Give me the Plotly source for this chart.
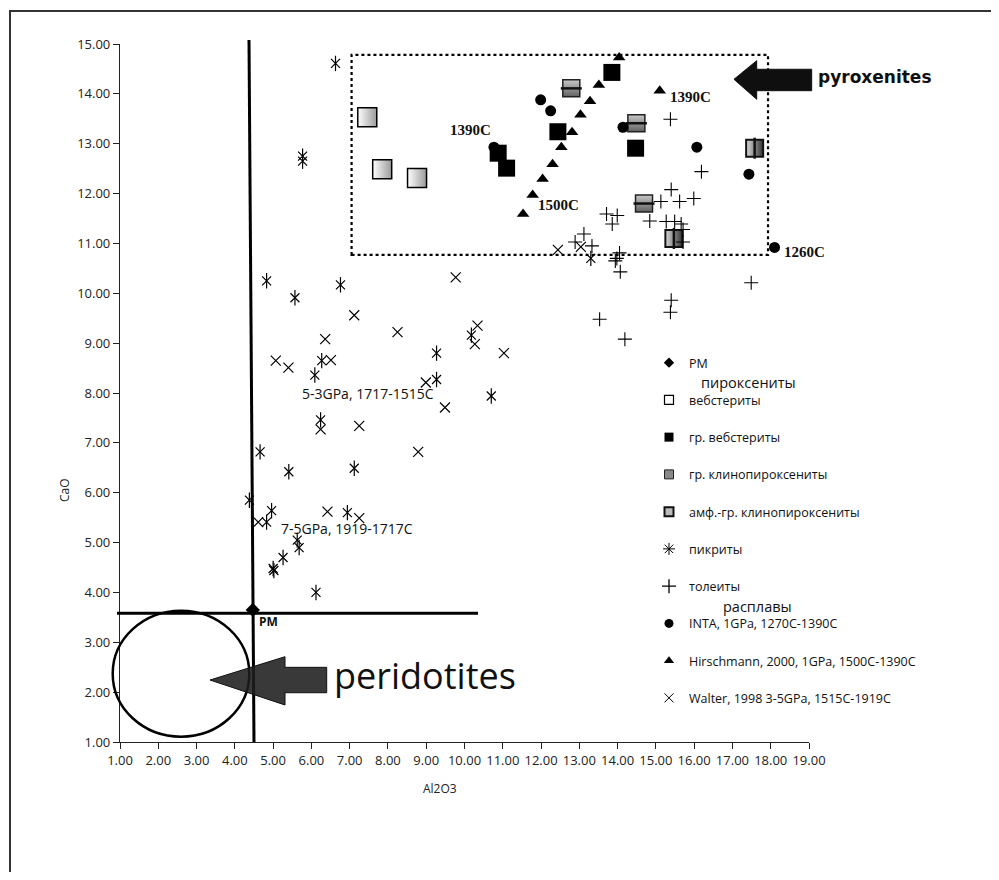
import plotly.graph_objects as go

# ---------------- data ----------------
pm_x = [4.47]
pm_y = [3.65]

web_x = [7.46, 7.85, 8.76]
web_y = [13.53, 12.49, 12.31]

grweb_x = [10.88, 11.10, 12.44, 13.85, 14.47]
grweb_y = [12.81, 12.51, 13.24, 14.43, 12.91]

grclin_x = [12.79, 14.49, 14.69]
grclin_y = [14.11, 13.41, 11.80]

amph_x = [17.58, 15.47]
amph_y = [12.91, 11.10]

pic_x = [6.63, 5.77, 5.77, 4.83, 5.57, 6.76, 10.18, 6.27, 6.09, 9.27, 9.27, 10.70,
         6.24, 4.66, 5.41, 7.12, 4.38, 4.96, 6.94, 4.83, 5.63, 5.68, 5.26, 5.00,
         5.02, 6.12, 13.30]
pic_y = [14.61, 12.75, 12.65, 10.25, 9.91, 10.17, 9.16, 8.65, 8.36, 8.80, 8.27, 7.94,
         7.46, 6.82, 6.42, 6.49, 5.85, 5.64, 5.60, 5.41, 5.05, 4.90, 4.70, 4.48,
         4.44, 4.00, 10.70]

thol_x = [15.38, 16.19, 15.40, 15.13, 15.62, 15.99, 13.71, 13.99, 13.86, 14.84, 15.27,
          15.49, 15.66, 15.71, 15.71, 13.12, 12.89, 13.33, 14.05, 13.94, 13.98, 14.07,
          17.49, 15.40, 15.38, 13.53, 14.19]
thol_y = [13.49, 12.44, 12.08, 11.84, 11.84, 11.90, 11.59, 11.56, 11.39, 11.45, 11.44,
          11.44, 11.39, 11.28, 11.03, 11.19, 11.03, 10.95, 10.81, 10.65, 10.70, 10.43,
          10.21, 9.86, 9.62, 9.48, 9.08]

inta_x = [10.77, 11.99, 12.25, 14.14, 16.07, 17.43, 18.10]
inta_y = [12.93, 13.88, 13.66, 13.33, 12.93, 12.39, 10.92]

hir_x = [11.53, 11.78, 12.04, 12.30, 12.53, 12.81, 13.03, 13.28, 13.51, 14.04, 15.10]
hir_y = [11.59, 11.97, 12.29, 12.59, 12.93, 13.23, 13.58, 13.85, 14.18, 14.73, 14.06]

wal_x = [9.77, 7.12, 10.34, 6.36, 8.25, 10.27, 11.03, 5.07, 5.40, 6.51, 8.99, 9.49,
         6.24, 7.25, 8.79, 6.42, 7.25, 4.61, 12.44, 13.04]
wal_y = [10.32, 9.56, 9.35, 9.08, 9.22, 8.98, 8.80, 8.65, 8.51, 8.66, 8.21, 7.71,
         7.27, 7.34, 6.82, 5.62, 5.49, 5.41, 10.87, 10.93]

x_ticks = [1, 2, 3, 4, 5, 6, 7, 8, 9, 10, 11, 12, 13, 14, 15, 16, 17, 18, 19]
y_ticks = [1, 2, 3, 4, 5, 6, 7, 8, 9, 10, 11, 12, 13, 14, 15]

legend_names = ["PM", "вебстериты", "гр. вебстериты", "гр. клинопироксениты",
                "амф.-гр. клинопироксениты", "пикриты", "толеиты",
                "INTA, 1GPa, 1270C-1390C", "Hirschmann, 2000, 1GPa, 1500C-1390C",
                "Walter, 1998 3-5GPa, 1515C-1919C"]

# ---------------- geometry (screen pixels -> paper) ----------------
OFF = 8                       # page body margin
W, H = 999 - 2 * OFF, 880 - 2 * OFF
L, R, T, B = 120, 809, 44, 742  # plot area in screen pixels


def px(x):
    return (x - L) / (R - L)


def py(y):
    return (B - y) / (B - T)


fig = go.Figure()
BLK = "black"

# data traces
fig.add_trace(go.Scatter(x=web_x, y=web_y, mode="markers", showlegend=False,
                         marker=dict(symbol="square", size=19, color="white",
                                     gradient=dict(type="horizontal", color="#9a9a9a"),
                                     line=dict(color=BLK, width=1.5))))
fig.add_trace(go.Scatter(x=grclin_x, y=grclin_y, mode="markers", showlegend=False,
                         marker=dict(symbol="square", size=17, color="#c8c8c8",
                                     gradient=dict(type="vertical", color="#606060"),
                                     line=dict(color="#222", width=1.5))))
fig.add_trace(go.Scatter(x=grclin_x, y=grclin_y, mode="markers", showlegend=False,
                         marker=dict(symbol="line-ew-open", size=15, color="#111",
                                     line=dict(color="#111", width=2.5))))
fig.add_trace(go.Scatter(x=amph_x, y=amph_y, mode="markers", showlegend=False,
                         marker=dict(symbol="square", size=17, color="#dcdcdc",
                                     gradient=dict(type="horizontal", color="#333"),
                                     line=dict(color="#111", width=2))))
fig.add_trace(go.Scatter(x=amph_x, y=amph_y, mode="markers", showlegend=False,
                         marker=dict(symbol="line-ns-open", size=15, color="#111",
                                     line=dict(color="#111", width=2.5))))
fig.add_trace(go.Scatter(x=inta_x, y=inta_y, mode="markers", showlegend=False,
                         marker=dict(symbol="circle", size=11, color=BLK)))
fig.add_trace(go.Scatter(x=grweb_x, y=grweb_y, mode="markers", showlegend=False,
                         marker=dict(symbol="square", size=17, color=BLK)))
fig.add_trace(go.Scatter(x=hir_x, y=hir_y, mode="markers", showlegend=False,
                         marker=dict(symbol="triangle-up", size=11, color=BLK)))
fig.add_trace(go.Scatter(x=thol_x, y=thol_y, mode="markers", showlegend=False,
                         marker=dict(symbol="cross-thin-open", size=10, color=BLK,
                                     line=dict(color=BLK, width=1.1))))
fig.add_trace(go.Scatter(x=wal_x, y=wal_y, mode="markers", showlegend=False,
                         marker=dict(symbol="x-thin-open", size=10, color=BLK,
                                     line=dict(color=BLK, width=1.2))))
fig.add_trace(go.Scatter(x=pic_x, y=pic_y, mode="markers", showlegend=False,
                         marker=dict(symbol="x-thin-open", size=9, color=BLK,
                                     line=dict(color=BLK, width=1.2))))
fig.add_trace(go.Scatter(x=pic_x, y=pic_y, mode="markers", showlegend=False,
                         marker=dict(symbol="line-ns-open", size=11, color=BLK,
                                     line=dict(color=BLK, width=1.2))))
fig.add_trace(go.Scatter(x=pm_x, y=pm_y, mode="markers", showlegend=False,
                         marker=dict(symbol="diamond", size=11, color=BLK)))

# legend-only traces
leg_markers = [
    dict(symbol="diamond", size=8, color=BLK),
    dict(symbol="square", size=9, color="white", line=dict(color=BLK, width=1.2)),
    dict(symbol="square", size=9, color=BLK),
    dict(symbol="square", size=9, color="#888", line=dict(color="#222", width=1)),
    dict(symbol="square", size=9, color="#bbb", line=dict(color="#111", width=2)),
    dict(symbol="asterisk-open", size=10, color=BLK, line=dict(color=BLK, width=1)),
    dict(symbol="cross-thin-open", size=10, color=BLK, line=dict(color=BLK, width=1.3)),
    dict(symbol="circle", size=9, color=BLK),
    dict(symbol="triangle-up", size=9, color=BLK),
    dict(symbol="x-thin-open", size=9, color=BLK, line=dict(color=BLK, width=1)),
]
for i, (nm, mk) in enumerate(zip(legend_names, leg_markers)):
    fig.add_trace(go.Scatter(x=[None], y=[None], mode="markers", name=nm,
                             legendgroup="g%d" % i, marker=mk))

shapes = []
# dotted rectangle (data coords)
shapes.append(dict(type="rect", xref="x", yref="y", x0=7.05, x1=17.93, y0=10.77, y1=14.78,
                   line=dict(color=BLK, width=2.2, dash="dot")))
# thick vertical & horizontal lines through PM
shapes.append(dict(type="line", xref="paper", yref="paper", x0=px(249), y0=py(40),
                   x1=px(254), y1=py(742), line=dict(color=BLK, width=3)))
shapes.append(dict(type="line", xref="paper", yref="paper", x0=px(117), y0=py(613.3),
                   x1=px(478), y1=py(613.3), line=dict(color=BLK, width=3)))
# peridotite ellipse
shapes.append(dict(type="circle", xref="paper", yref="paper", x0=px(112.7), x1=px(249.3),
                   y0=py(736.7), y1=py(610.7), line=dict(color=BLK, width=2.5)))


def arrow(pts, fill):
    d = "M " + " L ".join("%.4f,%.4f" % (px(a), py(b)) for a, b in pts) + " Z"
    return dict(type="path", xref="paper", yref="paper", path=d, fillcolor=fill,
                line=dict(color="#111", width=1))


shapes.append(arrow([(210, 680), (285, 656.7), (285, 667.3), (326.7, 667.3),
                     (326.7, 692.7), (285, 692.7), (285, 705)], "rgba(30,30,30,0.88)"))
shapes.append(arrow([(734, 79.3), (756.7, 60.7), (756.7, 69.3), (811.7, 69.3),
                     (811.7, 90.7), (756.7, 90.7), (756.7, 99.3)], "rgba(15,15,15,1)"))
# outer frame
shapes.append(dict(type="rect", xref="paper", yref="paper", x0=px(10), x1=px(1012),
                   y0=py(892), y1=py(11), line=dict(color="#333", width=2)))

ann = []
lab_font = dict(family="Liberation Serif", size=15, color="#111")


def add_ann(text, x, y, font, xref="x", yref="y", **kw):
    ann.append(dict(x=x, y=y, xref=xref, yref=yref, text=text, showarrow=False,
                    xanchor="center", yanchor="middle", font=font, **kw))


for txt, x, y in [("1390C", 10.16, 13.27), ("1500C", 12.46, 11.77),
                  ("1390C", 15.91, 13.94), ("1260C", 18.89, 10.83)]:
    add_ann("<b>%s</b>" % txt, x, y, lab_font)
for txt, x, y in [("5-3GPa, 1717-1515C", 7.48, 8.0), ("7-5GPa, 1919-1717C", 6.93, 5.29)]:
    add_ann(txt, x, y, dict(family="Open Sans", size=14, color="#111"))
add_ann("<b>PM</b>", 4.89, 3.41, dict(family="Open Sans", size=12, color="#111"))
add_ann("<b>pyroxenites</b>", px(875), py(77),
        dict(family="DejaVu Sans", size=17, color="#111"), "paper", "paper")
add_ann("peridotites", px(425), py(675),
        dict(family="Open Sans", size=36, color="#111"), "paper", "paper")
add_ann("пироксениты", px(748), py(382),
        dict(family="Open Sans", size=14.5, color="#111"), "paper", "paper")
add_ann("расплавы", px(757), py(606),
        dict(family="Open Sans", size=14.5, color="#111"), "paper", "paper")
add_ann("Al2O3", px(440), py(788),
        dict(family="Open Sans", size=12, color="#222"), "paper", "paper")
add_ann("CaO", px(64), py(490),
        dict(family="Open Sans", size=12, color="#222"), "paper", "paper", textangle=-90)

axis_common = dict(showgrid=False, zeroline=False, showline=True, linecolor="#222",
                   linewidth=1.2, ticks="outside", ticklen=6, tickcolor="#222",
                   tickformat=".2f", tickfont=dict(family="Open Sans", size=13, color="#222"))

fig.update_layout(
    width=W, height=H,
    margin=dict(l=L - OFF, r=W - (R - OFF), t=T - OFF, b=H - (B - OFF)),
    paper_bgcolor="white", plot_bgcolor="white",
    xaxis=dict(range=[1, 19], tickvals=x_ticks, **axis_common),
    yaxis=dict(range=[1, 15], tickvals=y_ticks, **axis_common),
    shapes=shapes, annotations=ann,
    showlegend=True,
    legend=dict(x=px(649), y=py(348), xanchor="left", yanchor="top",
                traceorder="grouped", tracegroupgap=18, itemwidth=30,
                font=dict(family="Open Sans", size=12.5, color="#111"),
                bgcolor="rgba(0,0,0,0)"),
)

fig.write_html("out.html")
